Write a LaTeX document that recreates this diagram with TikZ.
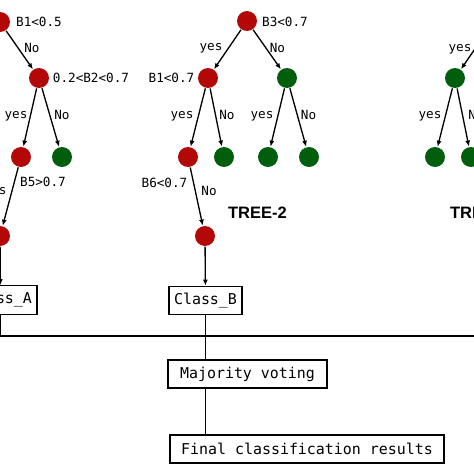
\documentclass[tikz,border=0pt]{standalone}
\usepackage{fontspec}
\newfontfamily\monofont{DejaVu Sans Mono}
\newfontfamily\headfont{Liberation Sans}
\usetikzlibrary{arrows.meta}
\definecolor{leafred}{RGB}{178,8,8}
\definecolor{leafgreen}{RGB}{0,94,12}

\begin{document}
\begin{tikzpicture}[x=0.02cm,y=-0.02cm,line width=0.75pt,
  rednode/.style={circle,fill=leafred,minimum size=0.4cm,inner sep=0pt},
  greennode/.style={circle,fill=leafgreen,minimum size=0.4cm,inner sep=0pt},
  condlabel/.style={font=\monofont\fontsize{7.2}{8}\selectfont,inner sep=0pt},
  resultbox/.style={draw,font=\monofont\fontsize{8.5}{10}\selectfont,minimum height=0.57cm,inner sep=0pt},
  treename/.style={font=\headfont\bfseries\fontsize{9.4}{11}\selectfont,inner sep=0pt},
  branch/.style={-{Latex[length=0.12cm,width=0.1cm]}}]
\useasboundingbox (0,0) rectangle (474,474);
\clip (0,0) rectangle (474,474);
% tree 1
\node[rednode] (t1root) at (0,22) {};
\node[rednode] (t1mid) at (39,78) {};
\node[rednode] (t1yes) at (21,157) {};
\node[greennode] (t1no) at (62,157) {};
\node[rednode] (t1end) at (0,236) {};
\node[resultbox,minimum width=1.46cm] (classA) at (0.5,300) {Class\_A};
\draw[branch] (t1root) -- (t1mid);
\draw[branch] (t1mid) -- (t1yes);
\draw[branch] (t1mid) -- (t1no);
\draw[branch] (t1yes) -- (t1end);
\draw[branch] (t1end) -- (classA);
\node[condlabel] (t1c1) at (39,22) {B1<0.5};
\node[condlabel] (t1c2) at (91,78) {0.2<B2<0.7};
\node[condlabel] (t1c3) at (43,182) {B5>0.7};
\node[condlabel] (t1l1) at (32,48) {No};
\node[condlabel] (t1l2) at (16,116) {yes};
\node[condlabel] (t1l3) at (62,115) {No};
\node[condlabel] (t1l4) at (-5,192) {yes};
% tree 2
\node[rednode] (t2root) at (247,21) {};
\node[rednode] (t2left) at (208,78) {};
\node[greennode] (t2right) at (287,78) {};
\node[rednode] (t2ll) at (188,157) {};
\node[greennode] (t2lr) at (224,157) {};
\node[greennode] (t2rl) at (268,157) {};
\node[greennode] (t2rr) at (309,157) {};
\node[rednode] (t2end) at (205,236) {};
\node[resultbox,minimum width=1.46cm] (classB) at (205.5,300.5) {Class\_B};
\draw[branch] (t2root) -- (t2left);
\draw[branch] (t2root) -- (t2right);
\draw[branch] (t2left) -- (t2ll);
\draw[branch] (t2left) -- (t2lr);
\draw[branch] (t2right) -- (t2rl);
\draw[branch] (t2right) -- (t2rr);
\draw[branch] (t2ll) -- (t2end);
\draw[branch] (t2end) -- (classB);
\node[condlabel] (t2c1) at (285,22) {B3<0.7};
\node[condlabel] (t2c2) at (171.5,78) {B1<0.7};
\node[condlabel] (t2c3) at (164.5,183) {B6<0.7};
\node[condlabel] (t2l1) at (211,48) {yes};
\node[condlabel] (t2l2) at (277.5,48) {No};
\node[condlabel] (t2l3) at (182,116) {yes};
\node[condlabel] (t2l4) at (227,115) {No};
\node[condlabel] (t2l5) at (262,116) {yes};
\node[condlabel] (t2l6) at (308.5,115) {No};
\node[condlabel] (t2l7) at (209,191) {No};
\node[treename] (tree2) at (257.5,213) {TREE-2};
% tree 3
\coordinate (t3top) at (494,21);
\node[greennode] (t3left) at (455,78) {};
\node[greennode] (t3ll) at (435,157) {};
\node[greennode] (t3lr) at (471,157) {};
\draw[branch] (t3top) -- (t3left);
\draw[branch] (t3left) -- (t3ll);
\draw[branch] (t3left) -- (t3lr);
\node[condlabel] (t3l1) at (460,49) {yes};
\node[condlabel] (t3l2) at (430,116) {yes};
\node[condlabel] (t3l3) at (476,115) {No};
\node[treename] (tree3) at (479.5,213) {TREE-3};
% voting
\coordinate (voteleft) at (0,336);
\coordinate (voteright) at (474,336);
\node[resultbox,minimum width=3.18cm,minimum height=0.56cm] (majority) at (247.5,374) {Majority voting};
\node[resultbox,minimum width=5.48cm,minimum height=0.56cm] (final) at (307,449) {Final classification results};
\draw (voteleft) -- (voteright);
\draw (classA.south) -- (classA.south |- voteleft);
\draw (classB.south) -- (classB.south |- majority.north);
\draw (classB.south |- majority.south) -- (classB.south |- final.north);
\end{tikzpicture}
\end{document}
